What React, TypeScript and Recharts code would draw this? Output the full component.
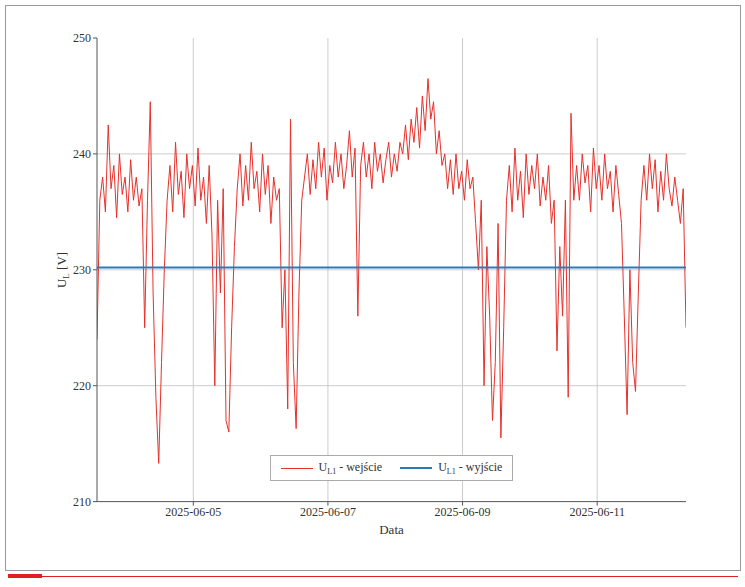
import React from 'react';
import { LineChart, Line, XAxis, YAxis, CartesianGrid, Legend } from 'recharts';

const START = Date.UTC(2025, 5, 3, 13, 40);
const HOUR = 3600 * 1000;
const inputValues = [
  224,236,238,235,242.5,237,239,234.5,240,236.5,238,235,239.5,236,238,235.5,
  237,225,236,244.5,228,219,213.3,222,230,
  236,239,235,241,236.5,238.5,234.5,240,237,239,235.5,240.5,236,238,234,239,
  233,220,236,228,237,217,216,225,232,
  237,240,235.5,239,236,241,237,238.5,235,240,236.5,239,234,238,236,237,
  225,230,218,243,222,216.3,228,236,
  238,240,236.5,239.5,237,241,238,240.5,236,239,237.5,241,238,240,237,239,
  242,238,240.5,226,239,241,
  238,240,237,241,238.5,240,237.5,239.5,241,238,240,238.5,241,
  240,242.5,239.5,243,241,244,240.5,245,242,246.5,243,244.5,240,242,239,
  240,237,239.5,236.5,240,237,238.5,236,239.5,237,238,234,
  230,236,220,232,226,217,222,234,215.5,225,
  236,239,235,240.5,236,238.5,234.5,240,236.5,239,237,240,235.5,238,236,239,234,236,
  223,232,226,236,219,243.5,236,
  239,236,240,237.5,239,235,240.5,237,239,236,240,237,238.5,235,239,236.5,234,
  226,217.5,230,222,219.5,228,236,239,
  236,240,237,239.5,235,238.5,236,240,237,235.5,238,236,234,237,225,
];
const outputLevel = 230.2;
const xTicks = [Date.UTC(2025,5,5), Date.UTC(2025,5,7), Date.UTC(2025,5,9), Date.UTC(2025,5,11)];
const yTicks = [210, 220, 230, 240, 250];

const data = inputValues.map((v, i) => ({ t: START + i * HOUR, in: v, out: outputLevel }));

const fmt = (t: number) => {
  const d = new Date(t);
  return `${d.getUTCFullYear()}-${String(d.getUTCMonth() + 1).padStart(2, '0')}-${String(d.getUTCDate()).padStart(2, '0')}`;
};

const font = '"Liberation Serif", "DejaVu Serif", serif';

const LegendBox = () => (
  <div style={{ border: '1px solid #aaa', background: '#fff', display: 'flex', gap: 18, padding: '4px 10px', fontFamily: font, fontSize: 12, color: '#333', width: 'fit-content', margin: '0 auto' }}>
    <span style={{ display: 'flex', alignItems: 'center', gap: 6 }}>
      <span style={{ width: 32, height: 1, background: '#e8302a', display: 'inline-block' }} />
      <span>U<sub style={{ fontSize: 8 }}>L1</sub> - wejście</span>
    </span>
    <span style={{ display: 'flex', alignItems: 'center', gap: 6 }}>
      <span style={{ width: 32, height: 2, background: '#2a7ab8', display: 'inline-block' }} />
      <span>U<sub style={{ fontSize: 8 }}>L1</sub> - wyjście</span>
    </span>
  </div>
);

const YLabel = () => (
  <text x={66} y={270} transform="rotate(-90 66 270)" textAnchor="middle" fontFamily={font} fontSize={13} fill="#333">
    U<tspan fontSize={9} dy={3}>L</tspan><tspan dy={-3}> [V]</tspan>
  </text>
);

export default function App() {
  return (
    <div style={{ position: 'absolute', left: 0, top: 0, width: 745, height: 587, background: '#fff' }}>
      <div style={{ position: 'absolute', left: 5, top: 5, width: 734, height: 564, border: '1px solid #999' }} />
      <div style={{ position: 'absolute', left: 8, top: 576, width: 730, height: 1, background: '#e02020' }} />
      <div style={{ position: 'absolute', left: 8, top: 574, width: 34, height: 4, background: '#e02020' }} />
      <div style={{ position: 'absolute', left: 0, top: 0 }}>
        <LineChart width={745} height={587} data={data} margin={{ top: 38, right: 59, bottom: 29, left: 0 }}>
          <CartesianGrid stroke="#ccc" verticalValues={xTicks} horizontalValues={[220, 230, 240]} />
          <XAxis dataKey="t" type="number" domain={[START, START + 210 * HOUR]} ticks={xTicks} tickFormatter={fmt}
            allowDataOverflow height={30} stroke="#555" tick={{ fontFamily: font, fontSize: 12, fill: '#333' }} tickSize={4}
            label={{ value: 'Data', position: 'insideBottom', offset: -2, fontFamily: font, fontSize: 13, fill: '#333' }} />
          <XAxis xAxisId="top" orientation="top" dataKey="t" type="number" domain={[START, START + 210 * HOUR]} ticks={[]} tick={false} stroke="#555" height={0} />
          <YAxis domain={[210, 250]} ticks={yTicks} width={97} stroke="#555" tick={{ fontFamily: font, fontSize: 12, fill: '#333' }} tickSize={4} />
          <YAxis yAxisId="right" orientation="right" domain={[210, 250]} ticks={[]} tick={false} stroke="#555" width={0} />
          <Line dataKey="in" stroke="#e8302a" strokeWidth={1} dot={false} isAnimationActive={false} />
          <Line dataKey="out" stroke="#2a7ab8" strokeWidth={1.8} dot={false} isAnimationActive={false} />
          <Legend content={<LegendBox />} wrapperStyle={{ position: 'absolute', left: 97, width: 589, top: 455 }} />
          <YLabel />
        </LineChart>
      </div>
    </div>
  );
}
